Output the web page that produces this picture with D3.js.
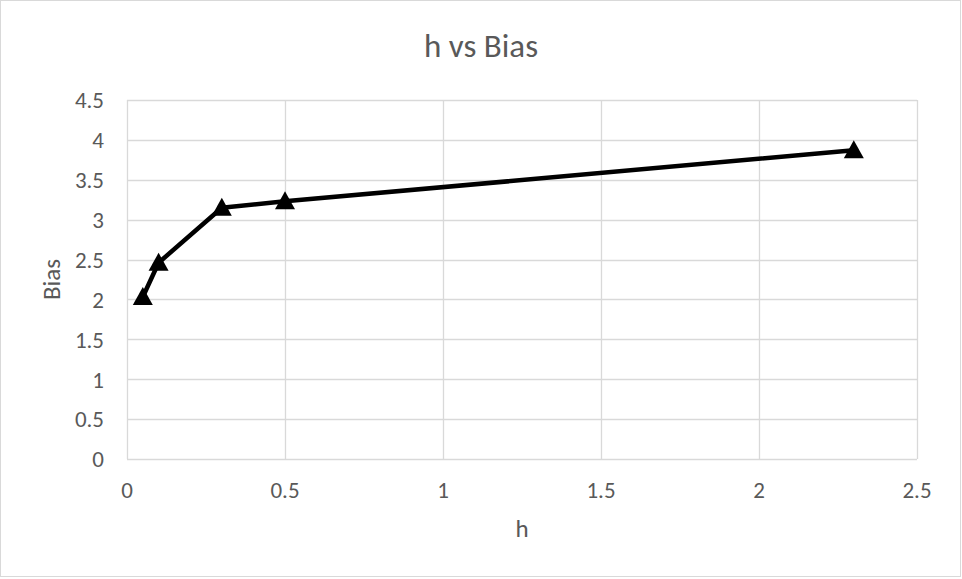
<!DOCTYPE html>
<html>
<head>
<meta charset="utf-8">
<script src="https://cdn.jsdelivr.net/npm/d3@7"></script>
<style>
  body { margin: 0; background: #fff; }
  text { font-family: Calibri, Carlito, "Open Sans", sans-serif; fill: #595959; }
</style>
</head>
<body>
<svg id="chart" width="962" height="579"></svg>
<script>
// data
var hValues = [0.05, 0.1, 0.3, 0.5, 2.3];
var biasValues = [2.03, 2.46, 3.15, 3.23, 3.87];
var xTicks = [0, 0.5, 1, 1.5, 2, 2.5];
var yTicks = [0, 0.5, 1, 1.5, 2, 2.5, 3, 3.5, 4, 4.5];

var svg = d3.select("#chart"),
    width = +svg.attr("width"),
    height = +svg.attr("height");

var margin = { left: 127, right: 45, top: 100, bottom: 120 };

var x = d3.scaleLinear().domain([0, 2.5]).range([margin.left, width - margin.right]);
var y = d3.scaleLinear().domain([0, 4.5]).range([height - margin.bottom, margin.top]);

// outer frame
svg.append("rect")
    .attr("x", 0.5).attr("y", 0.5)
    .attr("width", width - 2).attr("height", height - 3)
    .attr("fill", "#fff")
    .attr("stroke", "#d9d9d9");

// grid
svg.append("g")
    .selectAll("line")
    .data(yTicks)
    .enter().append("line")
    .attr("x1", x(0)).attr("x2", x(2.5))
    .attr("y1", function (d) { return Math.round(y(d)) + 0.5; })
    .attr("y2", function (d) { return Math.round(y(d)) + 0.5; })
    .attr("stroke", "#d9d9d9")
    .attr("stroke-width", 1.3);

svg.append("g")
    .selectAll("line")
    .data(xTicks)
    .enter().append("line")
    .attr("y1", y(0)).attr("y2", y(4.5))
    .attr("x1", function (d) { return Math.round(x(d)) + 0.5; })
    .attr("x2", function (d) { return Math.round(x(d)) + 0.5; })
    .attr("stroke", "#d9d9d9")
    .attr("stroke-width", 1.3);

// tick labels
svg.append("g")
    .selectAll("text")
    .data(yTicks)
    .enter().append("text")
    .attr("x", x(0) - 23)
    .attr("y", function (d) { return y(d); })
    .attr("dy", "0.36em")
    .attr("text-anchor", "end")
    .attr("font-size", "23px")
    .text(function (d) { return d; });

svg.append("g")
    .selectAll("text")
    .data(xTicks)
    .enter().append("text")
    .attr("x", function (d) { return x(d); })
    .attr("y", y(0) + 39)
    .attr("text-anchor", "middle")
    .attr("font-size", "23px")
    .text(function (d) { return d; });

// titles
svg.append("text")
    .attr("x", width / 2)
    .attr("y", 57)
    .attr("text-anchor", "middle")
    .attr("font-size", "33px")
    .text("h vs Bias");

svg.append("text")
    .attr("x", (x(0) + x(2.5)) / 2)
    .attr("y", 537)
    .attr("text-anchor", "middle")
    .attr("font-size", "25px")
    .text("h");

svg.append("text")
    .attr("transform", "translate(60," + (y(0) + y(4.5)) / 2 + ") rotate(-90)")
    .attr("text-anchor", "middle")
    .attr("font-size", "25px")
    .text("Bias");

// series
var points = hValues.map(function (h, i) { return { h: h, b: biasValues[i] }; });

svg.append("path")
    .datum(points)
    .attr("fill", "none")
    .attr("stroke", "#000")
    .attr("stroke-width", 4.5)
    .attr("stroke-linejoin", "round")
    .attr("d", d3.line()
        .x(function (d) { return x(d.h); })
        .y(function (d) { return y(d.b); }));

svg.append("g")
    .selectAll("path")
    .data(points)
    .enter().append("path")
    .attr("transform", function (d) { return "translate(" + x(d.h) + "," + y(d.b) + ")"; })
    .attr("d", "M0,-10L10,8L-10,8Z")
    .attr("fill", "#000");
</script>
</body>
</html>
